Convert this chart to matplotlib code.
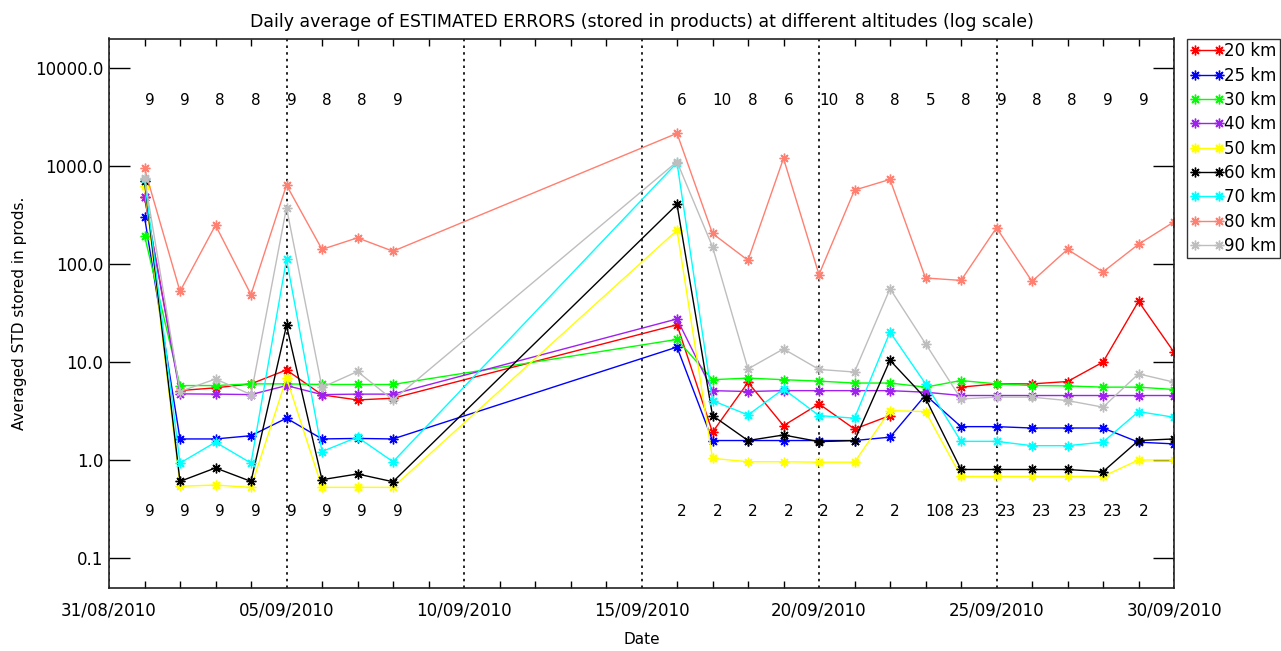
import numpy as np
import matplotlib
matplotlib.use("Agg")
import matplotlib.pyplot as plt
import matplotlib.dates as mdates
from matplotlib.ticker import FixedLocator, FixedFormatter, NullLocator
import datetime as dt

nan = np.nan

dates = ["2010-09-01", "2010-09-02", "2010-09-03", "2010-09-04", "2010-09-05",
         "2010-09-06", "2010-09-07", "2010-09-08",
         "2010-09-16", "2010-09-17", "2010-09-18", "2010-09-19", "2010-09-20",
         "2010-09-21", "2010-09-22", "2010-09-23", "2010-09-24", "2010-09-25",
         "2010-09-26", "2010-09-27", "2010-09-28", "2010-09-29", "2010-09-30"]

km20 = [480, 5.11, 5.45, 5.98, 8.3, 4.62, 4.1, 4.27,
        24, 1.92, 6.2, 2.24, 3.74, 2.07, 2.84, nan, 5.54, 5.98, 5.98, 6.32, 9.98, 41.6, 12.6]
km25 = [304, 1.64, 1.64, 1.77, 2.67, 1.64, 1.66, 1.64,
        14.2, 1.58, 1.58, 1.58, 1.58, 1.58, 1.71, 4.6, 2.19, 2.19, 2.12, 2.12, 2.12, 1.52, 1.46]
km30 = [195, 5.75, 5.75, 5.98, 5.98, 5.9, 5.9, 5.9,
        17, 6.6, 6.85, 6.6, 6.38, 6.1, 6.1, 5.54, 6.47, 5.98, 5.75, 5.7, 5.54, 5.54, 5.24]
km40 = [486, 4.73, 4.7, 4.65, 5.75, 4.65, 4.7, 4.7,
        27.5, 5.1, 5.0, 5.1, 5.1, 5.1, 5.1, 4.92, 4.55, 4.55, 4.55, 4.55, 4.55, 4.55, 4.55]
km50 = [629, 0.54, 0.555, 0.526, 6.85, 0.526, 0.526, 0.526,
        221, 1.04, 0.96, 0.96, 0.95, 0.95, 3.19, 3.12, 0.68, 0.68, 0.68, 0.68, 0.68, 1.0, 1.0]
km60 = [700, 0.605, 0.83, 0.605, 23.6, 0.63, 0.72, 0.6,
        405, 2.84, 1.58, 1.8, 1.54, 1.58, 10.4, 4.27, 0.80, 0.80, 0.80, 0.80, 0.76, 1.58, 1.64]
km70 = [740, 0.93, 1.52, 0.93, 112, 1.22, 1.71, 0.96,
        1080, 4.04, 2.88, 5.3, 2.84, 2.67, 20.2, 6.0, 1.55, 1.55, 1.4, 1.4, 1.52, 3.12, 2.73]
km80 = [943, 52.6, 249, 48.7, 638, 141, 185, 135,
        2155, 205, 109, 1196, 78, 567, 730, 72, 68, 234, 66.5, 141, 83, 159, 269]
km90 = [758, 5.0, 6.7, 4.65, 375, 5.5, 8.0, 4.1,
        1107, 150, 8.5, 13.6, 8.4, 7.9, 56, 15.4, 4.2, 4.38, 4.38, 4.04, 3.46, 7.57, 6.23]

top_counts = ["9", "9", "8", "8", "9", "8", "8", "9",
              "6", "10", "8", "6", "10", "8", "8", "5", "8", "9", "8", "8", "9", "9", ""]
bottom_counts = ["9", "9", "9", "9", "9", "9", "9", "9",
                 "2", "2", "2", "2", "2", "2", "2", "108", "23", "23", "23", "23", "23", "2", ""]

labels = ["20 km", "25 km", "30 km", "40 km", "50 km", "60 km", "70 km", "80 km", "90 km"]
series = [km20, km25, km30, km40, km50, km60, km70, km80, km90]
colors = ["#ff0000", "#0000ff", "#00ff00", "#a020f0", "#ffff00", "#000000",
          "#00ffff", "#ff7f70", "#bebebe"]

yticks = [0.1, 1.0, 10.0, 100.0, 1000.0, 10000.0]
ytick_labels = ["0.1", "1.0", "10.0", "100.0", "1000.0", "10000.0"]

x = [dt.datetime.strptime(d, "%Y-%m-%d") for d in dates]

fig = plt.figure(figsize=(12.81, 6.51), dpi=100)
ax = fig.add_axes([109 / 1281, 1 - 587.5 / 651, (1174 - 109) / 1281, (587.5 - 38.5) / 651])

handles = []
for vals, lab, col in zip(series, labels, colors):
    h, = ax.plot(x, vals, color=col, lw=1.0, marker=(8, 2, 0), markersize=7,
                 markeredgewidth=1.0, label=lab)
    handles.append(h)

ax.set_yscale("log")
ax.set_ylim(0.05, 20000)
ax.set_xlim(dt.datetime(2010, 8, 31), dt.datetime(2010, 9, 30))

ax.yaxis.set_major_locator(FixedLocator(yticks))
ax.yaxis.set_major_formatter(FixedFormatter(ytick_labels))
ax.yaxis.set_minor_locator(NullLocator())
ax.tick_params(axis="y", which="major", direction="in", length=15, width=1.0,
               left=True, right=True, labelsize=12, pad=4)

major_dates = [dt.datetime(2010, 8, 31) + dt.timedelta(days=5 * i) for i in range(7)]
ax.xaxis.set_major_locator(FixedLocator(mdates.date2num(major_dates)))
ax.xaxis.set_major_formatter(mdates.DateFormatter("%d/%m/%Y"))
ax.xaxis.set_minor_locator(mdates.DayLocator())
ax.tick_params(axis="x", which="major", length=0, labelsize=12, pad=10)
ax.tick_params(axis="x", which="minor", direction="in", length=5, width=1.0,
               bottom=True, top=True)
ax.grid(axis="x", which="major", linestyle=(0, (1.5, 2.5)), color="black", lw=1.2)

for sp in ax.spines.values():
    sp.set_linewidth(1.2)
    sp.set_color("#222222")

for xi, t in zip(x, top_counts):
    ax.text(xi, 4700, t, ha="left", va="center", fontsize=11)
for xi, t in zip(x, bottom_counts):
    ax.text(xi, 0.3, t, ha="left", va="center", fontsize=11)

ax.set_title("Daily average of ESTIMATED ERRORS (stored in products) at different altitudes (log scale)",
             fontsize=12.5, pad=8)
ax.set_xlabel("Date", fontsize=11, labelpad=9)
ax.set_ylabel("Averaged STD stored in prods.", fontsize=11, labelpad=6)

leg = fig.legend(handles=handles, loc="upper left",
                 bbox_to_anchor=(1187 / 1281, 1 - 39 / 651), numpoints=2,
                 fontsize=12, frameon=True, fancybox=False, edgecolor="black",
                 handlelength=2.0, handletextpad=0.05, labelspacing=0.38,
                 borderpad=0.2, borderaxespad=0)
leg.get_frame().set_linewidth(1.0)

fig.savefig("out.png", dpi=100)
